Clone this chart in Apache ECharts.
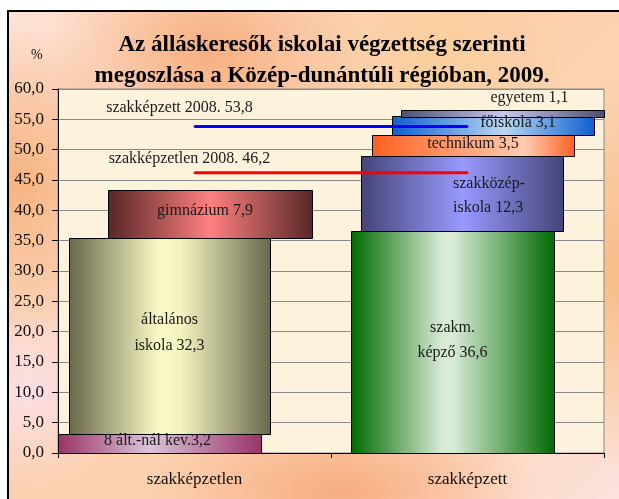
<!DOCTYPE html>
<html>
<head>
<meta charset="utf-8">
<script src="https://cdn.jsdelivr.net/npm/echarts@6/dist/echarts.min.js"></script>
<style>
html,body{margin:0;padding:0;background:#fff;width:619px;height:499px;overflow:hidden;}
#frame{position:absolute;left:7px;top:10px;width:640px;height:520px;border-top:2px solid #000;border-left:2px solid #000;
background:
radial-gradient(ellipse 160px 120px at 200px 40px, rgba(247,170,120,0.9), rgba(247,170,120,0) 100%),
radial-gradient(ellipse 120px 160px at 10px 170px, rgba(246,175,120,0.9), rgba(246,175,120,0) 100%),
radial-gradient(ellipse 200px 90px at 330px 480px, rgba(247,170,125,0.95), rgba(247,170,125,0) 100%),
radial-gradient(ellipse 120px 200px at 610px 260px, rgba(248,185,130,0.9), rgba(248,185,130,0) 100%),
radial-gradient(ellipse 140px 100px at 430px 40px, rgba(250,205,150,0.8), rgba(250,205,150,0) 100%),
radial-gradient(ellipse 100px 100px at 20px 380px, rgba(252,225,235,0.9), rgba(252,225,235,0) 100%),
linear-gradient(135deg,#fde2d6 0%,#fbd0ae 40%,#fcd6b6 70%,#fde4e4 100%);}
#c{position:absolute;left:0;top:0;width:619px;height:499px;}
</style>
</head>
<body>
<div id="frame"></div>
<div id="c"></div>
<script>
// ---- data ----
const categories = ['szakképzetlen', 'szakképzett'];
const segNames = ['8 ált.-nál kev.', 'általános iskola', 'gimnázium', 'szakm. képző', 'szakközép-iskola', 'technikum', 'főiskola', 'egyetem'];
const segLabels = ['8 ált.-nál kev.3,2', 'általános\niskola 32,3', 'gimnázium 7,9', 'szakm.\nképző 36,6', 'szakközép-\niskola 12,3', 'technikum 3,5', 'főiskola 3,1', 'egyetem 1,1'];
const segValues = [3.2, 32.3, 7.9, 36.6, 12.3, 3.5, 3.1, 1.1];
const segCategory = [0, 0, 0, 1, 1, 1, 1, 1];
const lineNames = ['szakképzett 2008.', 'szakképzetlen 2008.'];
const lineValues = [53.8, 46.2];
const yTicks = [0, 5, 10, 15, 20, 25, 30, 35, 40, 45, 50, 55, 60];

// ---- styles (positions relative to category band, px at 273 band) ----
const segOffset = [-35, -25, 15.5, -15, -5.5, 5.5, 25.5, 35];
const segWidth = [203, 201, 204, 203, 202, 202, 202, 203];
const segLabelDX = [-2, 0, -5, 0, -9, 0, 25, 27];
const segLabelDY = [-2, -3, -3, -2, 2.5, -1.5, -3, -11.5];
const segLabelAlign = ['center','center','center','center','left','center','center','center'];
const segLabelLH = [16, 26, 16, 25, 24, 16, 16, 16];
const segLabelAbove = [false,false,false,false,false,false,false,true];
const segColors = [
  [['#993366',0],['#dcc4da',0.45],['#993366',1]],
  [['#68684c',0],['#fbfbc8',0.45],['#f4f4c0',0.55],['#68684c',1]],
  [['#582626',0],['#ff8080',0.5],['#582626',1]],
  [['#006a00',0],['#d9ebd6',0.45],['#d9ebd6',0.5],['#006a00',1]],
  [['#444478',0],['#9999ff',0.5],['#444478',1]],
  [['#ff6020',0],['#ffcdb4',0.75],['#ff6020',1]],
  [['#0f5fd0',0],['#b8d8f2',0.55],['#0f5fd0',1]],
  [['#4e4e6e',0],['#c8c8f0',0.5],['#4e4e6e',1]]
];
const lineColors = ['#0000ff', '#ff0000'];
const lineLabelPos = [[-14, -18], [-4, -13]];

// build segment data [cat, start, end, idx]
const stackTop = [0, 0];
const segData = segValues.map((v, i) => {
  const c = segCategory[i];
  const s = stackTop[c];
  stackTop[c] += v;
  return [c, s, s + v, i];
});

const serif = '"Liberation Serif","Times New Roman",serif';

const chart = echarts.init(document.getElementById('c'), null, {renderer: 'canvas'});
chart.setOption({
  backgroundColor: 'transparent',
  animation: false,
  title: {
    text: 'Az álláskeresők iskolai végzettség szerinti\nmegoszlása a Közép-dunántúli régióban, 2009.',
    left: 317, top: 25, textAlign: 'center',
    textStyle: {fontFamily: serif, fontSize: 23, fontWeight: 'bold', color: '#000', lineHeight: 31}
  },
  graphic: [{
    type: 'text', left: 31, top: 48,
    style: {text: '%', font: '14px ' + serif, fill: '#111'}
  }],
  grid: {left: 58, right: 15, top: 89, bottom: 46, show: true, backgroundColor: '#fdf2dc', borderColor: '#8a8a8a', borderWidth: 1},
  xAxis: {
    type: 'category', data: categories,
    axisLine: {lineStyle: {color: '#000', width: 1}},
    axisTick: {show: true, alignWithLabel: false, length: 5, lineStyle: {color: '#000'}},
    axisLabel: {fontFamily: serif, fontSize: 17, color: '#111', margin: 18},
    splitLine: {show: false}
  },
  yAxis: {
    type: 'value', min: 0, max: 60, interval: 5,
    axisLine: {show: true, lineStyle: {color: '#000', width: 1}},
    axisTick: {show: true, length: 6, lineStyle: {color: '#000'}},
    axisLabel: {fontFamily: serif, fontSize: 17, color: '#111', margin: 14,
      formatter: v => yTicks.includes(v) ? v.toFixed(1).replace('.', ',') : ''},
    splitLine: {lineStyle: {color: '#8a8a8a', width: 1}}
  },
  series: [{
    type: 'custom',
    z: 2,
    data: segData,
    encode: {x: 0, y: [1, 2]},
    renderItem: function (params, api) {
      const c = api.value(0), s = api.value(1), e = api.value(2), i = api.value(3);
      const band = api.size([1, 0])[0];
      const k = band / 273;
      const p0 = api.coord([c, s]);
      const p1 = api.coord([c, e]);
      const cx = p0[0] + segOffset[i] * k;
      const w = segWidth[i] * k;
      const x = cx - w / 2;
      const y = p1[1], h = p0[1] - p1[1];
      const stops = segColors[i].map(st => ({offset: st[1], color: st[0]}));
      const cy = segLabelAbove[i] ? y : y + h / 2;
      return {
        type: 'group',
        children: [{
          type: 'rect',
          shape: {x: Math.round(x) + 0.5, y: Math.round(y) + 0.5, width: Math.round(w), height: Math.round(h)},
          style: {fill: new echarts.graphic.LinearGradient(0, 0, 1, 0, stops), stroke: '#000', lineWidth: 1}
        }, {
          type: 'text',
          z2: 10,
          style: {
            text: segLabels[i],
            x: cx + segLabelDX[i] * k, y: cy + segLabelDY[i],
            align: segLabelAlign[i], verticalAlign: 'middle',
            font: '16px ' + serif, fill: '#1a1a1a', lineHeight: segLabelLH[i]
          }
        }]
      };
    }
  }].concat(lineValues.map((v, j) => ({
    type: 'line',
    name: lineNames[j],
    z: 5,
    symbol: 'circle',
    symbolSize: 2,
    showSymbol: true,
    itemStyle: {color: lineColors[j]},
    lineStyle: {color: lineColors[j], width: 3},
    labelLayout: {hideOverlap: false},
    data: [{
      value: v,
      label: {show: true, position: lineLabelPos[j], align: 'center', verticalAlign: 'middle',
        formatter: lineNames[j] + ' ' + v.toFixed(1).replace('.', ','),
        fontFamily: serif, fontSize: 16, color: '#1a1a1a'}
    }, v]
  })))
});
</script>
</body>
</html>
